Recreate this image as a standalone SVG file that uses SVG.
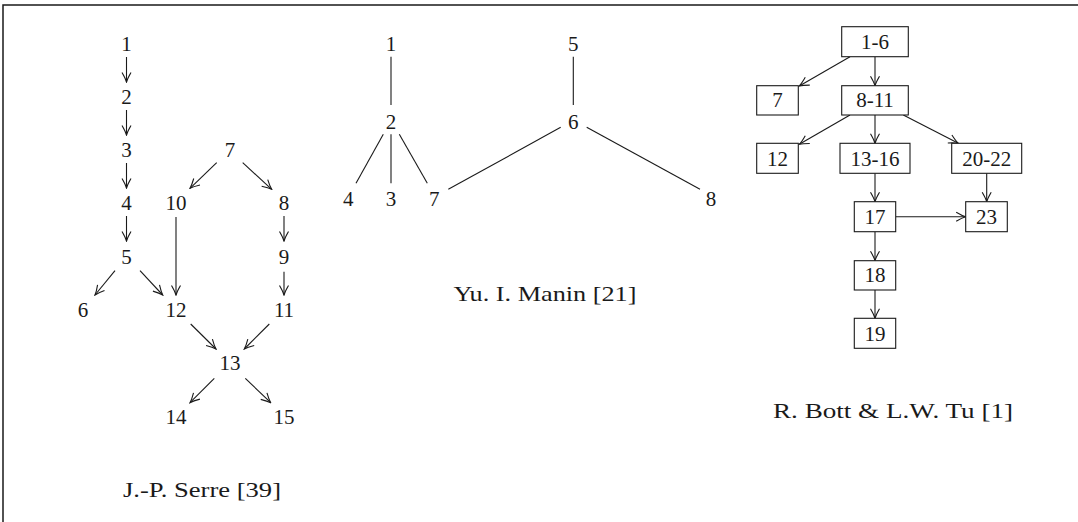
<svg xmlns="http://www.w3.org/2000/svg" width="1078" height="522" viewBox="0 0 1078 522">
<style>
text{font-family:"Liberation Serif","DejaVu Serif",serif;font-size:21px;fill:#1a1a1a;text-anchor:middle}
.c line{stroke:#1a1a1a;stroke-width:1.1}
.a{marker-end:url(#ah)}
.box{fill:#fff;stroke:#1a1a1a;stroke-width:1.1}
</style>
<defs>
<marker id="ah" viewBox="-11 -6 12 12" refX="0" refY="0" markerWidth="12" markerHeight="12" markerUnits="userSpaceOnUse" orient="auto">
<path d="M-9.5,-4.5 Q-3.5,-1 0,0 Q-3.5,1 -9.5,4.5" fill="none" stroke="#1a1a1a" stroke-width="1.1"/>
</marker>
</defs>
<rect x="0" y="0" width="1078" height="522" fill="#fff"/>
<path d="M3,522 V5 H1078" fill="none" stroke="#1a1a1a" stroke-width="1.5"/>

<g class="c" id="connectors">
<!-- Serre -->
<line class="a" x1="126.5" y1="57" x2="126.5" y2="82"/>
<line class="a" x1="126.5" y1="110" x2="126.5" y2="135"/>
<line class="a" x1="126.5" y1="163" x2="126.5" y2="188"/>
<line class="a" x1="126.5" y1="216" x2="126.5" y2="241"/>
<line class="a" x1="216.7" y1="162.7" x2="190" y2="188.3"/>
<line class="a" x1="242.7" y1="162.7" x2="271.7" y2="189.3"/>
<line class="a" x1="176" y1="217" x2="176" y2="295"/>
<line class="a" x1="284" y1="216" x2="284" y2="241"/>
<line class="a" x1="115" y1="270.7" x2="95" y2="295"/>
<line class="a" x1="140" y1="270.7" x2="162.7" y2="295"/>
<line class="a" x1="284" y1="271.7" x2="284" y2="295"/>
<line class="a" x1="190.7" y1="324" x2="216" y2="349"/>
<line class="a" x1="269.3" y1="324" x2="244.3" y2="349"/>
<line class="a" x1="214.3" y1="378.3" x2="190" y2="402.7"/>
<line class="a" x1="245.3" y1="378.3" x2="270.7" y2="402.7"/>
<!-- Manin -->
<line x1="391" y1="56.7" x2="391" y2="105"/>
<line x1="573.3" y1="56.7" x2="573.3" y2="105"/>
<line x1="383.3" y1="134.3" x2="356" y2="183.3"/>
<line x1="391" y1="134.3" x2="391" y2="183.3"/>
<line x1="399.3" y1="134.3" x2="427.3" y2="183.3"/>
<line x1="560.7" y1="127.3" x2="448.3" y2="189.3"/>
<line x1="586.7" y1="127.3" x2="700" y2="189.3"/>
<!-- Bott & Tu -->
<line class="a" x1="850" y1="56.7" x2="799.3" y2="86"/>
<line class="a" x1="875" y1="56.7" x2="875" y2="85.7"/>
<line class="a" x1="850" y1="115" x2="799.3" y2="144.3"/>
<line class="a" x1="875" y1="115" x2="875" y2="143.3"/>
<line class="a" x1="903.3" y1="115" x2="958.3" y2="143.3"/>
<line class="a" x1="875" y1="173.3" x2="875" y2="201.7"/>
<line class="a" x1="986.7" y1="173.3" x2="986.7" y2="201.7"/>
<line class="a" x1="895.7" y1="216.7" x2="965.7" y2="216.7"/>
<line class="a" x1="875" y1="231.7" x2="875" y2="260.7"/>
<line class="a" x1="875" y1="290" x2="875" y2="318.3"/>
</g>

<!-- Serre nodes -->
<g id="s1"><text x="126.5" y="50.5">1</text></g>
<g id="s2"><text x="126.5" y="104">2</text></g>
<g id="s3"><text x="126.5" y="157">3</text></g>
<g id="s4"><text x="126.5" y="210">4</text></g>
<g id="s5"><text x="126.5" y="263.5">5</text></g>
<g id="s6"><text x="83" y="317">6</text></g>
<g id="s7"><text x="230" y="157">7</text></g>
<g id="s8"><text x="284" y="210">8</text></g>
<g id="s9"><text x="284" y="263.5">9</text></g>
<g id="s10"><text x="176" y="210">10</text></g>
<g id="s11"><text x="284" y="317">11</text></g>
<g id="s12"><text x="176" y="317">12</text></g>
<g id="s13"><text x="230" y="370">13</text></g>
<g id="s14"><text x="176" y="423.5">14</text></g>
<g id="s15"><text x="284" y="423.5">15</text></g>
<g id="serre-caption"><text x="202" y="497" textLength="158" lengthAdjust="spacingAndGlyphs">J.-P. Serre [39]</text></g>

<!-- Manin nodes -->
<g id="m1"><text x="391" y="50.5">1</text></g>
<g id="m5"><text x="573.3" y="50.5">5</text></g>
<g id="m2"><text x="391" y="128.5">2</text></g>
<g id="m6"><text x="573.3" y="128.5">6</text></g>
<g id="m4"><text x="348.3" y="205.5">4</text></g>
<g id="m3"><text x="391" y="205.5">3</text></g>
<g id="m7"><text x="434.3" y="205.5">7</text></g>
<g id="m8"><text x="711" y="205.5">8</text></g>
<g id="manin-caption"><text x="545" y="300.5" textLength="183" lengthAdjust="spacingAndGlyphs">Yu. I. Manin [21]</text></g>

<!-- Bott & Tu nodes -->
<g id="b1-6"><rect class="box" x="841.7" y="26.7" width="66.6" height="30"/><text x="875" y="48.8">1-6</text></g>
<g id="b7"><rect class="box" x="756.7" y="85.7" width="41.6" height="29.3"/><text x="777.5" y="107.2">7</text></g>
<g id="b8-11"><rect class="box" x="841.7" y="85.7" width="66.6" height="29.3"/><text x="875" y="107.2">8-11</text></g>
<g id="b12"><rect class="box" x="756.7" y="143.3" width="41.6" height="30"/><text x="777.5" y="165.5">12</text></g>
<g id="b13-16"><rect class="box" x="840" y="143.3" width="70" height="30"/><text x="875" y="165.5">13-16</text></g>
<g id="b20-22"><rect class="box" x="951.7" y="143.3" width="70" height="30"/><text x="986.7" y="165.5">20-22</text></g>
<g id="b17"><rect class="box" x="854.3" y="201.7" width="41.4" height="30"/><text x="875" y="223.8">17</text></g>
<g id="b23"><rect class="box" x="965.7" y="201.7" width="41.6" height="30"/><text x="986.5" y="223.8">23</text></g>
<g id="b18"><rect class="box" x="854.3" y="260.7" width="41.4" height="29.3"/><text x="875" y="282.2">18</text></g>
<g id="b19"><rect class="box" x="854.3" y="318.3" width="41.4" height="30"/><text x="875" y="340.5">19</text></g>
<g id="bott-caption"><text x="893" y="417.5" textLength="240" lengthAdjust="spacingAndGlyphs">R. Bott &amp; L.W. Tu [1]</text></g>
</svg>
